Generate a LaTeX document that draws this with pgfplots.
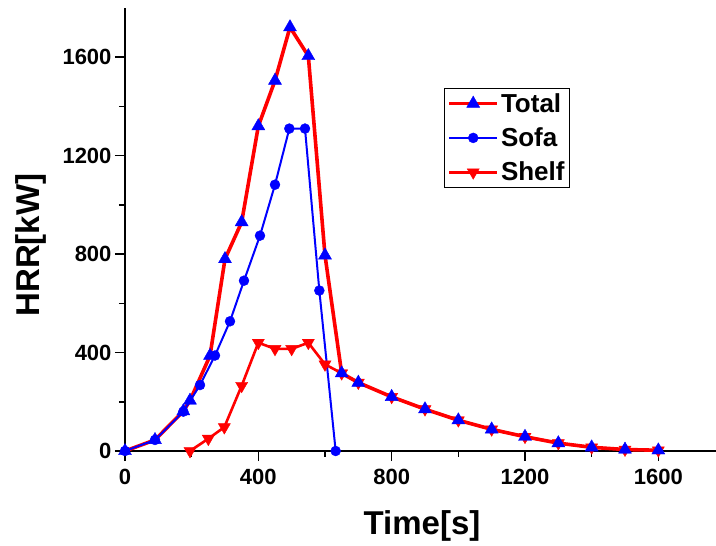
\documentclass[border=0pt]{standalone}
\usepackage{fontspec}
\setmainfont{Liberation Sans}
\usepackage{pgfplots}
\pgfplotsset{compat=1.18}
\definecolor{myred}{RGB}{255,0,0}
\definecolor{myblue}{RGB}{0,0,255}
\begin{document}
\begin{tikzpicture}
\useasboundingbox (-125pt,-95pt) rectangle (591pt,451pt);
\begin{axis}[
  at={(0pt,0pt)}, anchor=south west,
  scale only axis, width=591pt, height=443pt,
  xmin=0, xmax=1773, ymin=0, ymax=1800,
  axis x line*=bottom, axis y line*=left,
  axis line style={-, line width=1.8pt, black},
  xtick={0,400,...,1600}, ytick={0,400,...,1600},
  minor tick num=1,
  tick align=outside,
  major tick length=10pt, minor tick length=6pt,
  every tick/.style={black, line width=1.5pt},
  tick label style={font=\fontsize{22}{24}\selectfont\bfseries},
  xticklabel style={yshift=-5pt},
  /pgf/number format/assume math mode=true,
  /pgf/number format/set thousands separator={},
  clip=false,
  xlabel={Time[s]}, ylabel={HRR[kW]},
  label style={font=\fontsize{33}{38}\selectfont\bfseries},
  xlabel style={at={(axis description cs:0.5025,-0.1896)}, anchor=base},
  ylabel style={at={(axis description cs:-0.1455,0.465)}, anchor=base},
  legend style={at={(axis description cs:0.5398,0.8194)}, anchor=north west,
    draw=black, line width=0.8pt, inner sep=3pt, row sep=10pt,
    font=\fontsize{26}{28}\selectfont\bfseries,
    cells={anchor=west}},
  legend image code/.code={\draw[mark repeat=2,mark phase=2,#1] plot coordinates {(0pt,0pt) (24pt,0pt) (48pt,0pt)};},
]
% Shelf (drawn first, below Total)
\addplot[myred, line width=2.6pt, mark=triangle*, mark size=7pt,
  mark options={fill=myred, draw=myred, line width=0.4pt, rotate=180}, forget plot]
coordinates {(195,0) (250,50) (298,97) (350,265) (400,440) (450,415) (500,415) (550,440) (600,352) (650,316) (700,278) (800,220) (900,170) (1000,125) (1100,88) (1200,58) (1300,32) (1400,15) (1500,6) (1600,3)};
% Total
\addplot[myred, line width=3.6pt, mark=triangle*, mark size=7.5pt,
  mark options={fill=myblue, draw=myblue, line width=0.4pt}]
coordinates {(0,0) (90,45) (175,162) (195,205) (255,387) (300,780) (350,930) (400,1320) (450,1505) (495,1722) (550,1605) (600,795) (650,316) (700,278) (800,220) (900,170) (1000,125) (1100,88) (1200,58) (1300,32) (1400,15) (1500,6) (1600,3)};
\addlegendentry{Total}
% Sofa
\addplot[myblue, line width=2pt, mark=*, mark size=5pt,
  mark options={fill=myblue, draw=myblue, line width=0.4pt}]
coordinates {(0,0) (90,45) (175,160) (225,268) (270,388) (315,527) (357,692) (405,875) (450,1082) (493,1310) (540,1310) (583,652) (632,0)};
\addlegendentry{Sofa}
\addlegendimage{myred, line width=2.6pt, mark=triangle*, mark size=7pt,
  mark options={fill=myred, draw=myred, line width=0.4pt, rotate=180}}
\addlegendentry{Shelf}
\end{axis}
\end{tikzpicture}
\end{document}
